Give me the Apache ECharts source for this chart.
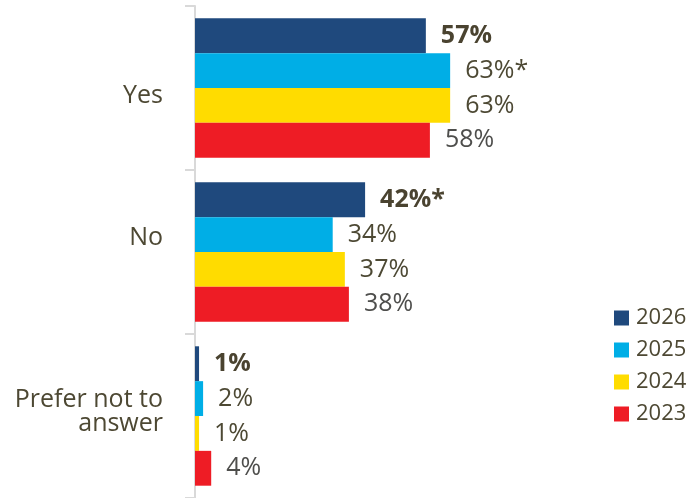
<!DOCTYPE html>
<html>
<head>
<meta charset="utf-8">
<script src="https://cdn.jsdelivr.net/npm/echarts@6/dist/echarts.min.js"></script>
<style>
  html, body { margin: 0; padding: 0; background: #ffffff; }
  #chart { width: 698px; height: 498px; }
</style>
</head>
<body>
<div id="chart"></div>
<script>
// Survey answers by year (percent of respondents)
const categories = ['Yes', 'No', 'Prefer not to\nanswer'];
const years = ['2026', '2025', '2024', '2023'];

const values2026 = [57, 42, 1];
const values2025 = [63, 34, 2];
const values2024 = [63, 37, 1];
const values2023 = [58, 38, 4];

// Significant change markers (shown as an asterisk after the value)
const sig2026 = [false, true, false];
const sig2025 = [true, false, false];
const sig2024 = [false, false, false];
const sig2023 = [false, false, false];

const colors = ['#1f497d', '#00aee6', '#ffdc00', '#ee1c25'];
const labelColors = ['#4a4330', '#4d4934', '#4d4934', '#4e4e4c'];
const fontFamily = '"Open Sans", "Noto Sans", sans-serif';

const seriesValues = [values2026, values2025, values2024, values2023];
const seriesSig = [sig2026, sig2025, sig2024, sig2023];

// vertical nudge of each category label (px, positive = down)
const labelShift = [8, -14, -8];

const chart = echarts.init(document.getElementById('chart'), null, { renderer: 'canvas' });

const richBase = { fontSize: 25, lineHeight: 32, color: '#4d4833', fontFamily: fontFamily, align: 'right' };
const rich = {
  plain: Object.assign({}, richBase),
  down0: Object.assign({}, richBase, { padding: [2 * labelShift[0], 0, 0, 0] }),
  up1: Object.assign({}, richBase, { padding: [0, 0, -2 * labelShift[1], 0] }),
  up2: Object.assign({}, richBase, { padding: [0, 0, -2 * labelShift[2], 0] })
};

const option = {
  animation: false,
  backgroundColor: '#ffffff',
  color: colors,
  grid: { left: 195, right: 98, top: 6, bottom: 0, containLabel: false },
  legend: {
    orient: 'vertical',
    left: 614,
    top: 307,
    padding: 0,
    itemGap: 10,
    itemWidth: 15,
    itemHeight: 15,
    icon: 'rect',
    data: years,
    textStyle: { fontSize: 22, lineHeight: 22, color: '#4d4833', fontFamily: fontFamily, padding: [0, 0, 0, 2] }
  },
  xAxis: {
    type: 'value',
    min: 0,
    max: 100,
    show: false
  },
  yAxis: {
    type: 'category',
    data: categories,
    inverse: true,
    axisLine: { show: true, lineStyle: { color: '#d9d9d9', width: 2 } },
    axisTick: { show: true, length: 10, lineStyle: { color: '#d9d9d9', width: 2 } },
    axisLabel: {
      margin: 32,
      fontSize: 25,
      fontFamily: fontFamily,
      color: '#4d4833',
      align: 'right',
      rich: rich,
      formatter: function (value, index) {
        const lines = value.split('\n');
        return lines.map(function (line, i) {
          let style = 'plain';
          if (index === 0 && i === 0) style = 'down0';
          if (index === 1 && i === lines.length - 1) style = 'up1';
          if (index === 2 && i === lines.length - 1) style = 'up2';
          return '{' + style + '|' + line + '}';
        }).join('\n');
      }
    },
    splitLine: { show: false }
  },
  series: years.map(function (year, s) {
    return {
      name: year,
      type: 'bar',
      data: seriesValues[s],
      barCategoryGap: '15%',
      barGap: '0%',
      itemStyle: { color: colors[s] },
      label: {
        show: true,
        position: 'right',
        distance: 15,
        fontSize: 25,
        fontFamily: fontFamily,
        fontWeight: s === 0 ? 'bold' : 'normal',
        color: labelColors[s],
        formatter: function (p) {
          return p.value + '%' + (seriesSig[s][p.dataIndex] ? '*' : '');
        }
      }
    };
  })
};

chart.setOption(option);
</script>
</body>
</html>
